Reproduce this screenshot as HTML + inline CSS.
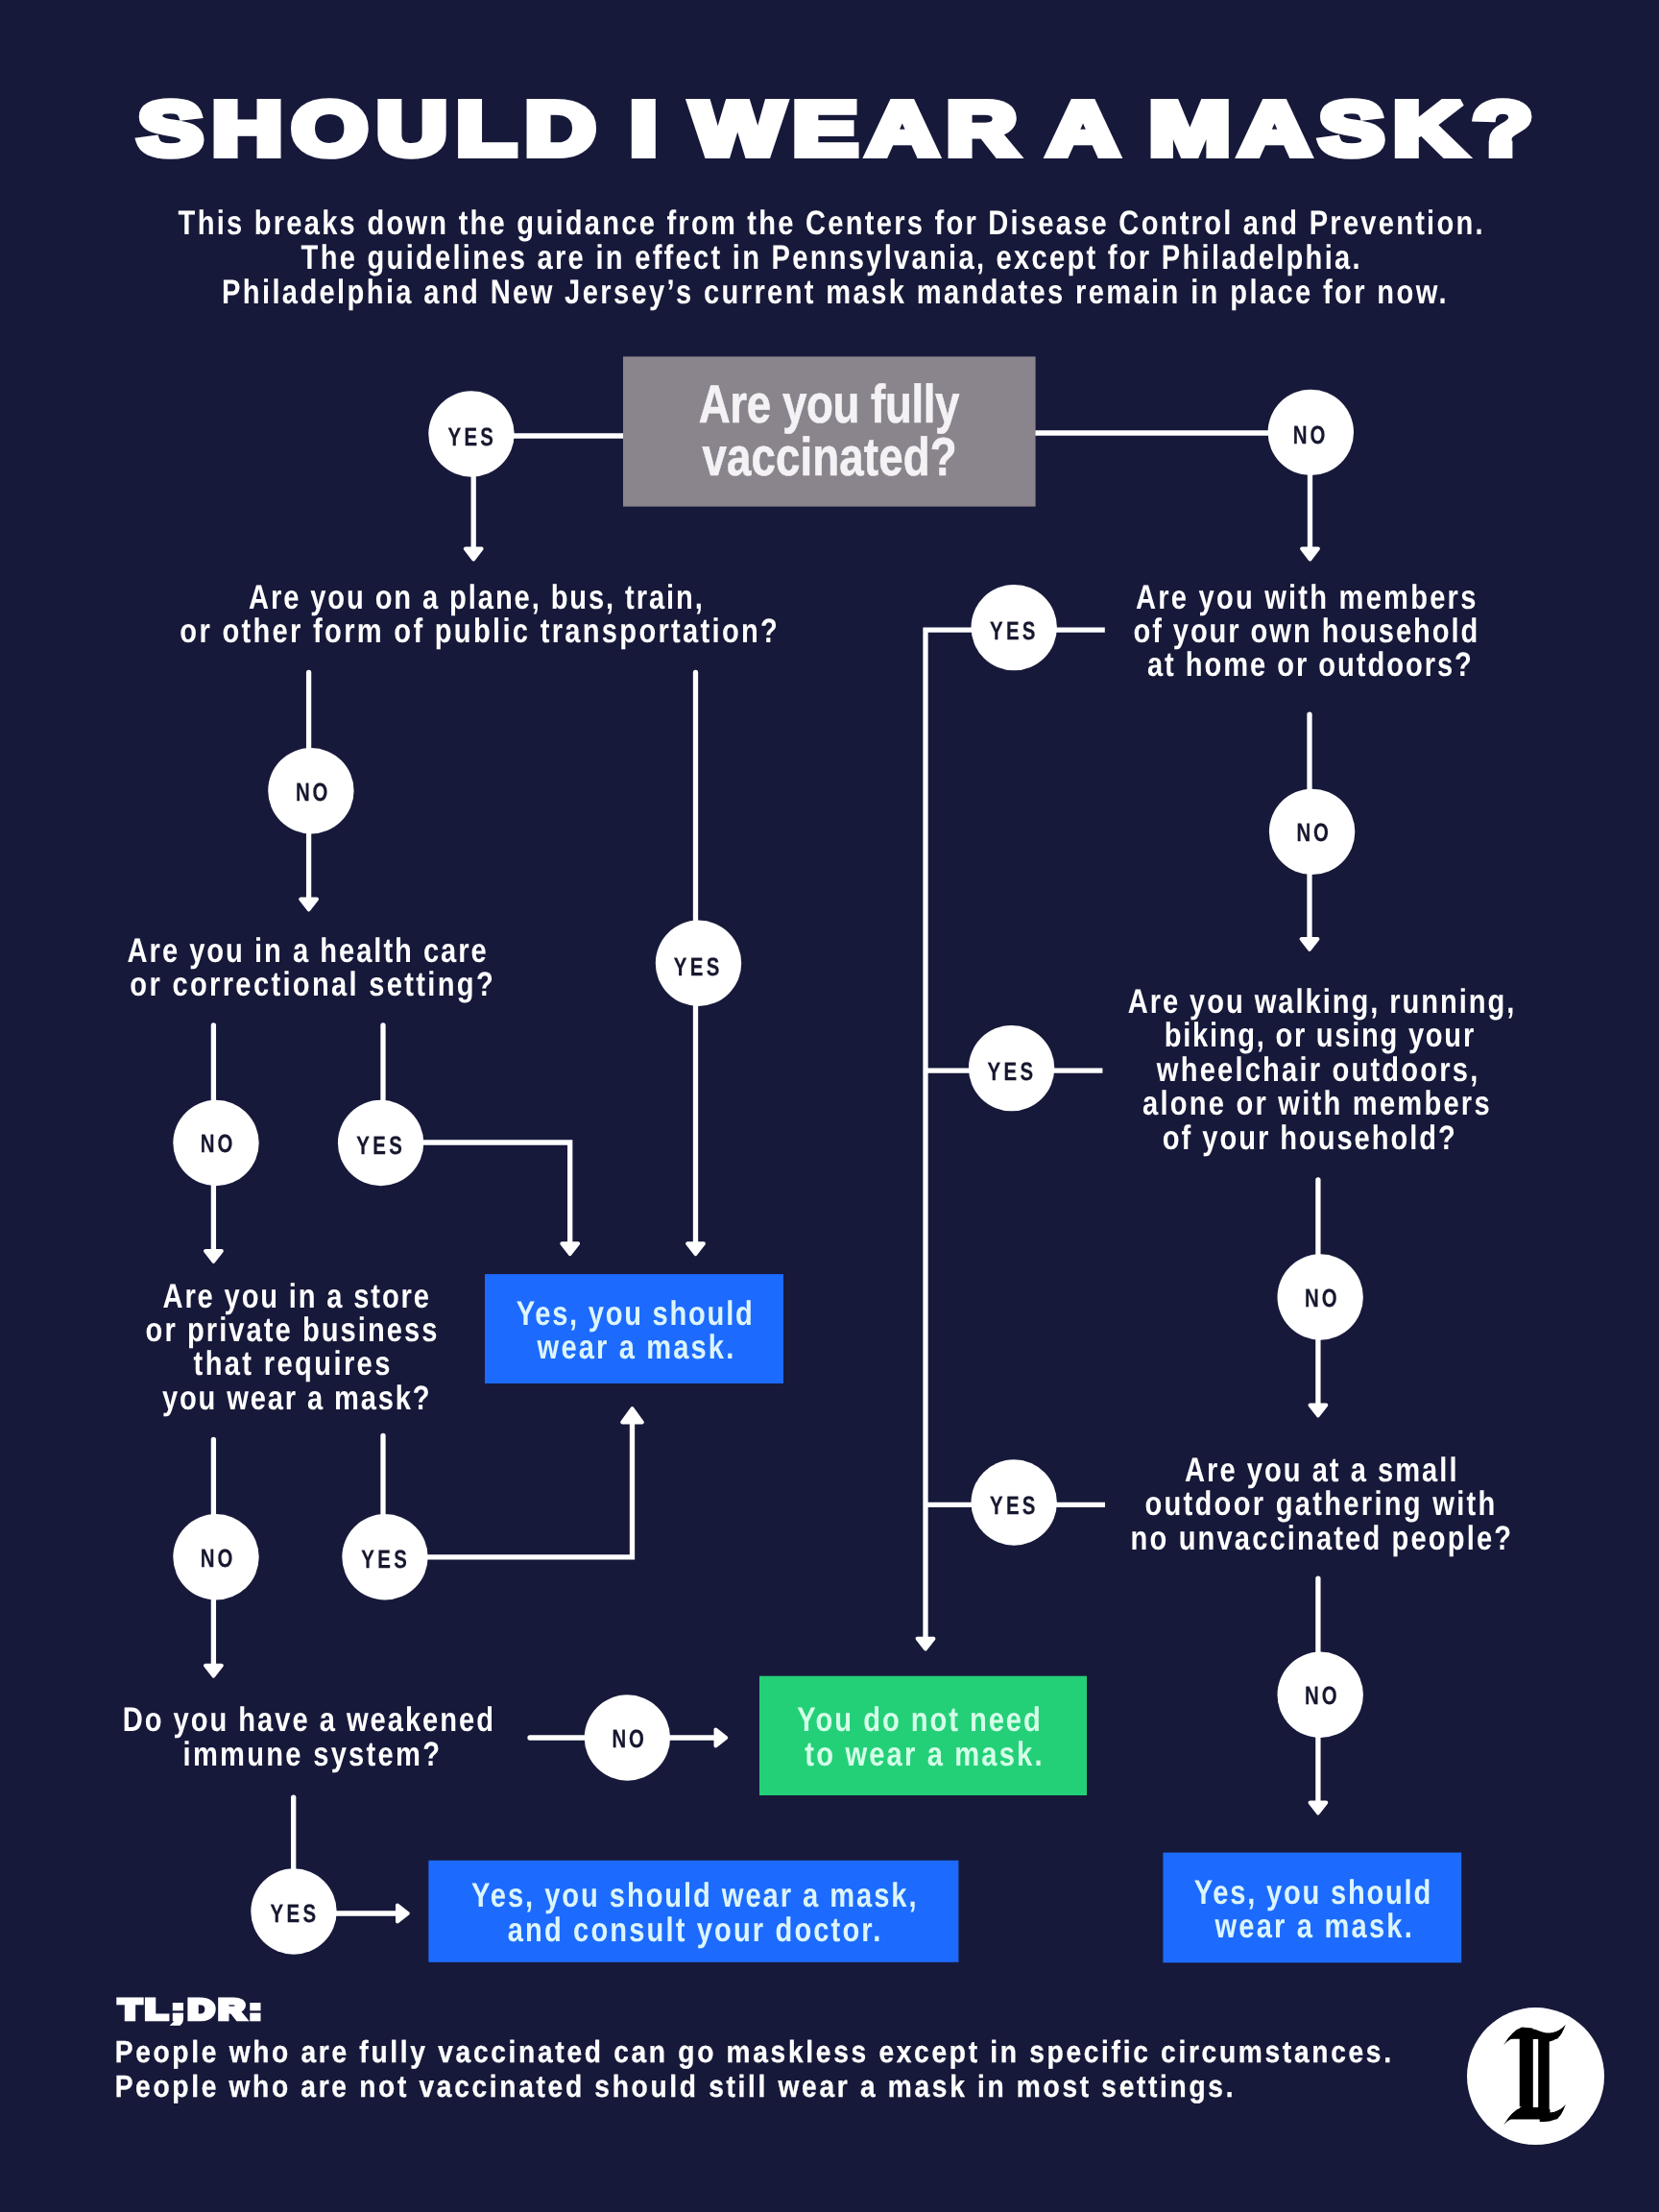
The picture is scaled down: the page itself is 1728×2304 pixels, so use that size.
<!DOCTYPE html>
<html lang="en">
<head>
<meta charset="utf-8">
<title>Should I wear a mask?</title>
<style>
html,body{margin:0;padding:0;background:#17193a;}
body{width:1728px;height:2304px;overflow:hidden;position:relative;}
svg{position:absolute;left:0;top:0;display:block;will-change:transform;}
text{text-rendering:geometricPrecision;}
text{font-family:"Liberation Sans", Arial, Helvetica, sans-serif;font-weight:700;white-space:pre;}
.ln{fill:none;stroke:#fff;stroke-width:5.3;stroke-linecap:round;stroke-linejoin:miter;}
.bt{stroke-linecap:butt;}
.ah{fill:#fff;stroke:#fff;stroke-width:4;stroke-linejoin:round;}
.c{fill:#fff;}
.lg{font-family:"DejaVu Serif","Liberation Serif",serif;font-weight:700;font-size:125px;fill:#000;stroke:#000;stroke-width:3px;stroke-linejoin:miter;}
.fl{fill:#000;}
.cv{fill:#fff;}
.body{font-size:35.5px;fill:#ffffff;}
.sub{font-size:35.5px;fill:#ffffff;}
.blue{font-size:35.5px;fill:#dcf5fb;}
.green{font-size:35.5px;fill:#d5ffe8;}
.vac{font-size:56px;fill:#f4f2f5;stroke:#f4f2f5;stroke-width:0.6px;stroke-linejoin:miter;stroke-miterlimit:2.5;paint-order:stroke fill;}
.lab{font-size:26.5px;fill:#16172f;stroke:#16172f;stroke-width:0.25px;stroke-linejoin:miter;stroke-miterlimit:2.5;paint-order:stroke fill;}
.title{font-size:78.5px;fill:#ffffff;stroke:#ffffff;stroke-width:8px;stroke-linejoin:miter;stroke-miterlimit:2.5;paint-order:stroke fill;word-spacing:-9px;}
.tldr{font-size:29.5px;fill:#ffffff;stroke:#ffffff;stroke-width:4.4px;stroke-linejoin:miter;stroke-miterlimit:2.5;paint-order:stroke fill;}
.foot{font-size:32px;fill:#ffffff;stroke:#ffffff;stroke-width:0.3px;stroke-linejoin:miter;stroke-miterlimit:2.5;paint-order:stroke fill;}
</style>
</head>
<body>
<svg width="1728" height="2304" viewBox="0 0 1728 2304" role="img" aria-label="Should I wear a mask? flowchart">
<rect width="1728" height="2304" fill="#17193a"/>
<path class="ln" d="M535.0 454.0 L650.0 454.0"/>
<path class="ln" d="M1078.0 451.0 L1321.0 451.0"/>
<path class="ln" d="M493.2 496.0 L493.2 574.6"/>
<polygon class="ah" points="484.8,571.6 501.6,571.6 493.2,582.4"/>
<path class="ln" d="M1364.5 494.0 L1364.5 574.6"/>
<polygon class="ah" points="1356.1,571.6 1372.9,571.6 1364.5,582.4"/>
<path class="ln" d="M321.6 700.5 L321.6 780.0"/>
<path class="ln" d="M321.6 867.0 L321.6 939.5"/>
<polygon class="ah" points="313.2,936.5 330.0,936.5 321.6,947.3"/>
<path class="ln" d="M724.5 700.5 L724.5 960.0"/>
<path class="ln" d="M724.5 1046.0 L724.5 1298.3"/>
<polygon class="ah" points="716.1,1295.3 732.9,1295.3 724.5,1306.1"/>
<path class="ln" d="M222.4 1068.0 L222.4 1146.0"/>
<path class="ln" d="M399.0 1068.0 L399.0 1146.0"/>
<path class="ln" d="M222.4 1233.0 L222.4 1306.0"/>
<polygon class="ah" points="214.0,1303.0 230.8,1303.0 222.4,1313.8"/>
<path class="ln" d="M440.0 1190.0 L593.7 1190.0 L593.7 1298.3"/>
<polygon class="ah" points="585.3,1295.3 602.1,1295.3 593.7,1306.1"/>
<path class="ln" d="M222.4 1499.3 L222.4 1578.0"/>
<path class="ln" d="M399.0 1495.5 L399.0 1578.0"/>
<path class="ln" d="M445.0 1621.8 L658.5 1621.8 L658.5 1475.0"/>
<polygon class="ah" points="648.2,1481.4 668.8,1481.4 658.5,1467.2"/>
<path class="ln" d="M222.4 1665.0 L222.4 1737.8"/>
<polygon class="ah" points="214.0,1734.8 230.8,1734.8 222.4,1745.6"/>
<path class="ln" d="M552.0 1810.0 L610.0 1810.0"/>
<path class="ln" d="M697.0 1810.0 L748.5 1810.0"/>
<polygon class="ah" points="745.5,1801.6 745.5,1818.4 756.3,1810.0"/>
<path class="ln" d="M305.7 1872.2 L305.7 1948.0"/>
<path class="ln" d="M350.0 1993.0 L417.0 1993.0"/>
<polygon class="ah" points="414.0,1984.6 414.0,2001.4 424.8,1993.0"/>
<path class="ln bt" d="M1100.0 656.2 L1150.8 656.2"/>
<path class="ln" d="M1012.0 656.2 L964.0 656.2 L964.0 1709.7"/>
<polygon class="ah" points="955.6,1706.7 972.4,1706.7 964.0,1717.5"/>
<path class="ln" d="M1364.0 744.1 L1364.0 823.0"/>
<path class="ln" d="M1364.0 910.0 L1364.0 981.0"/>
<polygon class="ah" points="1355.6,978.0 1372.4,978.0 1364.0,988.8"/>
<path class="ln" d="M965.0 1115.2 L1010.0 1115.2"/>
<path class="ln bt" d="M1097.0 1115.2 L1148.4 1115.2"/>
<path class="ln" d="M1372.9 1229.0 L1372.9 1308.0"/>
<path class="ln" d="M1372.9 1394.0 L1372.9 1466.5"/>
<polygon class="ah" points="1364.5,1463.5 1381.3,1463.5 1372.9,1474.3"/>
<path class="ln" d="M965.0 1567.3 L1012.0 1567.3"/>
<path class="ln bt" d="M1100.0 1567.3 L1151.0 1567.3"/>
<path class="ln" d="M1372.9 1644.1 L1372.9 1722.0"/>
<path class="ln" d="M1372.9 1809.0 L1372.9 1880.5"/>
<polygon class="ah" points="1364.5,1877.5 1381.3,1877.5 1372.9,1888.3"/>
<rect x="649.0" y="371.4" width="429.6" height="156.2" fill="#8a848c"/>
<rect x="505.0" y="1327.1" width="311.0" height="113.9" fill="#1c6bfe"/>
<rect x="791.0" y="1745.7" width="341.0" height="124.3" fill="#23d078"/>
<rect x="446.4" y="1937.8" width="552.0" height="106.0" fill="#1c6bfe"/>
<rect x="1211.4" y="1929.6" width="310.8" height="114.7" fill="#1c6bfe"/>
<circle class="c" cx="491.0" cy="452.0" r="44.7"/>
<text class="lab" transform="translate(466.45 463.60) scale(0.77 1)" style="letter-spacing:4.329px">YES</text>
<circle class="c" cx="1365.3" cy="450.4" r="44.7"/>
<text class="lab" transform="translate(1346.75 462.10) scale(0.77 1)" style="letter-spacing:3.756px">NO</text>
<circle class="c" cx="323.9" cy="823.7" r="44.7"/>
<text class="lab" transform="translate(307.95 833.70) scale(0.77 1)" style="letter-spacing:3.756px">NO</text>
<circle class="c" cx="727.5" cy="1003.3" r="44.7"/>
<text class="lab" transform="translate(701.85 1015.50) scale(0.77 1)" style="letter-spacing:4.329px">YES</text>
<circle class="c" cx="1056.2" cy="653.6" r="44.7"/>
<text class="lab" transform="translate(1030.95 665.80) scale(0.77 1)" style="letter-spacing:4.329px">YES</text>
<circle class="c" cx="1366.6" cy="866.4" r="44.7"/>
<text class="lab" transform="translate(1350.45 876.20) scale(0.77 1)" style="letter-spacing:3.756px">NO</text>
<circle class="c" cx="1053.6" cy="1112.6" r="44.7"/>
<text class="lab" transform="translate(1028.55 1124.80) scale(0.77 1)" style="letter-spacing:4.329px">YES</text>
<circle class="c" cx="225.0" cy="1190.5" r="44.7"/>
<text class="lab" transform="translate(208.85 1200.30) scale(0.77 1)" style="letter-spacing:3.756px">NO</text>
<circle class="c" cx="396.6" cy="1190.5" r="44.7"/>
<text class="lab" transform="translate(371.35 1202.30) scale(0.77 1)" style="letter-spacing:4.329px">YES</text>
<circle class="c" cx="1375.2" cy="1351.0" r="44.7"/>
<text class="lab" transform="translate(1359.05 1360.90) scale(0.77 1)" style="letter-spacing:3.756px">NO</text>
<circle class="c" cx="1056.2" cy="1565.0" r="44.7"/>
<text class="lab" transform="translate(1030.95 1576.80) scale(0.77 1)" style="letter-spacing:4.329px">YES</text>
<circle class="c" cx="225.0" cy="1621.8" r="44.7"/>
<text class="lab" transform="translate(208.85 1632.00) scale(0.77 1)" style="letter-spacing:3.756px">NO</text>
<circle class="c" cx="401.0" cy="1621.8" r="44.7"/>
<text class="lab" transform="translate(376.35 1633.40) scale(0.77 1)" style="letter-spacing:4.329px">YES</text>
<circle class="c" cx="653.4" cy="1810.0" r="44.7"/>
<text class="lab" transform="translate(637.45 1819.70) scale(0.77 1)" style="letter-spacing:3.756px">NO</text>
<circle class="c" cx="306.0" cy="1991.0" r="44.7"/>
<text class="lab" transform="translate(281.55 2002.00) scale(0.77 1)" style="letter-spacing:4.329px">YES</text>
<circle class="c" cx="1375.2" cy="1765.3" r="44.7"/>
<text class="lab" transform="translate(1359.05 1775.00) scale(0.77 1)" style="letter-spacing:3.756px">NO</text>
<g id="logo">
<circle cx="1599.5" cy="2162.6" r="71.5" fill="#fff"/>
<text class="lg" transform="translate(1598.3 2206) scale(1.17 1)" text-anchor="middle">I</text>
<rect x="1596.8" y="2124" width="5.4" height="71" fill="#fff"/>
<path class="cv" d="M1564.5 2111.0 L1585.0 2111.0 Q1574.7 2115.8 1566.1 2130.3 L1564.5 2130.3 Z"/>
<path class="cv" d="M1596.4 2112.4 Q1608.5 2118.2 1615.7 2117.6 Q1624.2 2116.4 1630.8 2108.8 L1630.8 2106.2 L1596.4 2106.2 Z"/>
<path class="cv" d="M1632.6 2108.8 L1632.6 2126.7 L1618.7 2126.7 Q1626.6 2121.2 1630.9 2108.8 Z"/>
<path class="fl" d="M1585.0 2111.6 Q1574.7 2115.8 1566.1 2130.3 Q1573.5 2121.2 1584.4 2122.1 L1596.4 2123.9 L1596.4 2112.4 Z"/>
<path class="fl" d="M1615.7 2117.6 Q1624.2 2116.4 1630.8 2108.8 Q1626.6 2121.2 1618.7 2124.9 Q1613.3 2127.6 1603.7 2126.7 L1603.7 2118.2 Z"/>
<path class="cv" d="M1564.5 2194.2 L1585.0 2194.2 Q1574.7 2199.0 1566.1 2213.5 L1564.5 2213.5 Z"/>
<path class="cv" d="M1614.5 2189.4 L1614.5 2200.6 Q1624.2 2199.6 1630.8 2192.0 L1630.8 2189.4 Z"/>
<path class="cv" d="M1632.6 2192.0 L1632.6 2209.9 L1618.7 2209.9 Q1626.6 2204.4 1630.9 2192.0 Z"/>
<path class="fl" d="M1585.0 2194.8 Q1574.7 2199.0 1566.1 2213.5 Q1573.5 2204.4 1584.4 2205.3 L1596.4 2207.1 L1596.4 2195.6 Z"/>
<path class="fl" d="M1615.7 2200.8 Q1624.2 2199.6 1630.8 2192.0 Q1626.6 2204.4 1618.7 2208.1 Q1613.3 2210.8 1603.7 2209.9 L1603.7 2201.4 Z"/>
</g>
<text class="title" transform="translate(143.77 161.30) scale(1.29 1)" style="letter-spacing:7.579px">SHOULD I WEAR A MASK?</text>
<text class="sub" transform="translate(185.62 244.00) scale(0.82 1)" style="letter-spacing:2.731px">This breaks down the guidance from the Centers for Disease Control and Prevention.</text>
<text class="sub" transform="translate(313.62 280.00) scale(0.82 1)" style="letter-spacing:2.768px">The guidelines are in effect in Pennsylvania, except for Philadelphia.</text>
<text class="sub" transform="translate(231.00 316.00) scale(0.82 1)" style="letter-spacing:2.890px">Philadelphia and New Jersey’s current mask mandates remain in place for now.</text>
<text class="vac" transform="translate(727.77 439.70) scale(0.815 1)" style="letter-spacing:-0.499px">Are you fully</text>
<text class="vac" transform="translate(731.60 494.70) scale(0.815 1)" style="letter-spacing:0.136px">vaccinated?</text>
<text class="body" transform="translate(259.00 634.00) scale(0.82 1)" style="letter-spacing:2.319px">Are you on a plane, bus, train,</text>
<text class="body" transform="translate(187.35 668.80) scale(0.82 1)" style="letter-spacing:2.800px">or other form of public transportation?</text>
<text class="body" transform="translate(132.55 1001.60) scale(0.82 1)" style="letter-spacing:2.431px">Are you in a health care</text>
<text class="body" transform="translate(135.35 1036.90) scale(0.82 1)" style="letter-spacing:2.822px">or correctional setting?</text>
<text class="body" transform="translate(169.55 1361.80) scale(0.82 1)" style="letter-spacing:2.258px">Are you in a store</text>
<text class="body" transform="translate(151.60 1396.80) scale(0.82 1)" style="letter-spacing:2.503px">or private business</text>
<text class="body" transform="translate(201.57 1432.30) scale(0.82 1)" style="letter-spacing:2.889px">that requires</text>
<text class="body" transform="translate(168.90 1467.80) scale(0.82 1)" style="letter-spacing:2.272px">you wear a mask?</text>
<text class="body" transform="translate(127.74 1803.00) scale(0.82 1)" style="letter-spacing:2.419px">Do you have a weakened</text>
<text class="body" transform="translate(190.55 1838.80) scale(0.82 1)" style="letter-spacing:2.775px">immune system?</text>
<text class="body" transform="translate(1183.00 633.60) scale(0.82 1)" style="letter-spacing:2.703px">Are you with members</text>
<text class="body" transform="translate(1180.43 668.80) scale(0.82 1)" style="letter-spacing:2.356px">of your own household</text>
<text class="body" transform="translate(1194.96 704.10) scale(0.82 1)" style="letter-spacing:2.383px">at home or outdoors?</text>
<text class="body" transform="translate(1174.70 1054.70) scale(0.82 1)" style="letter-spacing:2.375px">Are you walking, running,</text>
<text class="body" transform="translate(1212.69 1090.00) scale(0.82 1)" style="letter-spacing:2.113px">biking, or using your</text>
<text class="body" transform="translate(1204.87 1125.50) scale(0.82 1)" style="letter-spacing:2.671px">wheelchair outdoors,</text>
<text class="body" transform="translate(1190.00 1160.80) scale(0.82 1)" style="letter-spacing:2.715px">alone or with members</text>
<text class="body" transform="translate(1210.87 1196.50) scale(0.82 1)" style="letter-spacing:2.377px">of your household?</text>
<text class="body" transform="translate(1234.00 1542.60) scale(0.82 1)" style="letter-spacing:2.465px">Are you at a small</text>
<text class="body" transform="translate(1192.43 1578.00) scale(0.82 1)" style="letter-spacing:2.787px">outdoor gathering with</text>
<text class="body" transform="translate(1177.59 1613.70) scale(0.82 1)" style="letter-spacing:2.607px">no unvaccinated people?</text>
<text class="blue" transform="translate(537.66 1380.00) scale(0.82 1)" style="letter-spacing:2.132px">Yes, you should</text>
<text class="blue" transform="translate(559.61 1415.00) scale(0.82 1)" style="letter-spacing:2.594px">wear a mask.</text>
<text class="green" transform="translate(830.37 1802.80) scale(0.82 1)" style="letter-spacing:2.396px">You do not need</text>
<text class="green" transform="translate(838.30 1838.60) scale(0.82 1)" style="letter-spacing:2.649px">to wear a mask.</text>
<text class="blue" transform="translate(491.11 1985.70) scale(0.82 1)" style="letter-spacing:2.368px">Yes, you should wear a mask,</text>
<text class="blue" transform="translate(528.79 2022.00) scale(0.82 1)" style="letter-spacing:2.589px">and consult your doctor.</text>
<text class="blue" transform="translate(1243.72 1983.20) scale(0.82 1)" style="letter-spacing:2.172px">Yes, you should</text>
<text class="blue" transform="translate(1265.51 2018.00) scale(0.82 1)" style="letter-spacing:2.657px">wear a mask.</text>
<text class="tldr" transform="translate(123.82 2102.60) scale(1.3 1)" style="letter-spacing:3.169px">TL;DR:</text>
<text class="foot" transform="translate(119.66 2148.25) scale(0.88 1)" style="letter-spacing:3.054px">People who are fully vaccinated can go maskless except in specific circumstances.</text>
<text class="foot" transform="translate(119.66 2184.15) scale(0.88 1)" style="letter-spacing:3.040px">People who are not vaccinated should still wear a mask in most settings.</text>
</svg>
</body>
</html>
